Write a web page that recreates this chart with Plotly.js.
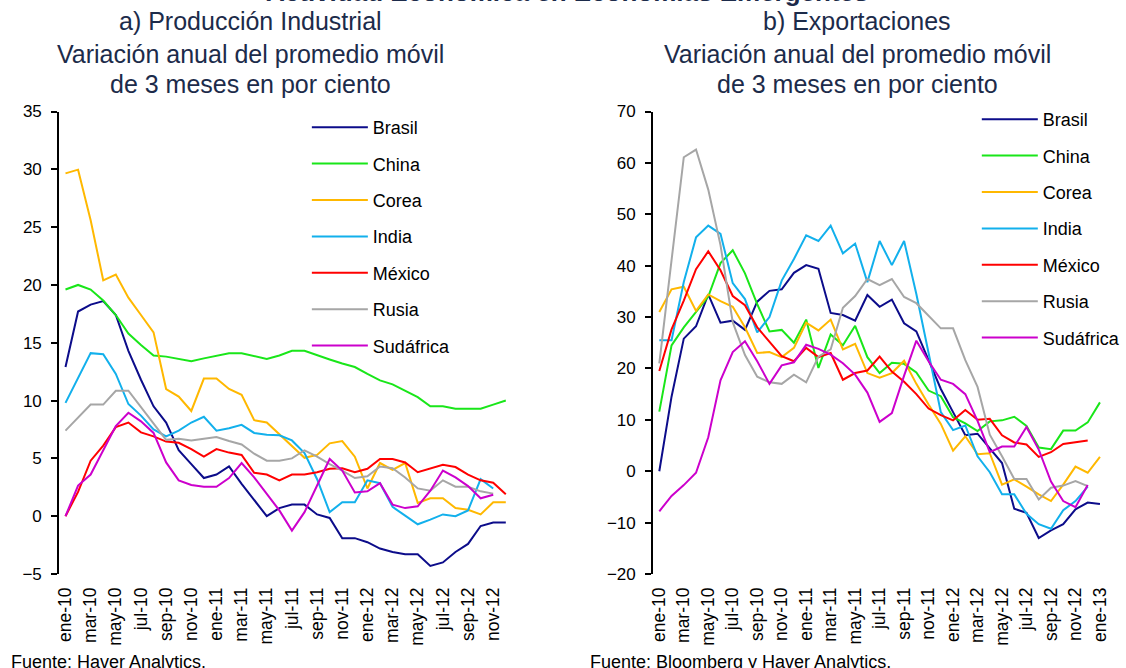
<!DOCTYPE html>
<html>
<head>
<meta charset="utf-8">
<script src="https://cdn.plot.ly/plotly-3.0.1.min.js"></script>
<style>
html,body{margin:0;padding:0;background:#ffffff;}
#chart{width:1126px;height:668px;}
</style>
</head>
<body>
<div id="chart"></div>
<script>
// ---------- DATA ----------
const seriesNames = ['Brasil','China','Corea','India','México','Rusia','Sudáfrica'];

const monthsA = ['ene-10','feb-10','mar-10','abr-10','may-10','jun-10','jul-10','ago-10','sep-10','oct-10','nov-10','dic-10',
                 'ene-11','feb-11','mar-11','abr-11','may-11','jun-11','jul-11','ago-11','sep-11','oct-11','nov-11','dic-11',
                 'ene-12','feb-12','mar-12','abr-12','may-12','jun-12','jul-12','ago-12','sep-12','oct-12','nov-12','dic-12'];
const monthsB = ['ene-10','feb-10','mar-10','abr-10','may-10','jun-10','jul-10','ago-10','sep-10','oct-10','nov-10','dic-10',
                 'ene-11','feb-11','mar-11','abr-11','may-11','jun-11','jul-11','ago-11','sep-11','oct-11','nov-11','dic-11',
                 'ene-12','feb-12','mar-12','abr-12','may-12','jun-12','jul-12','ago-12','sep-12','oct-12','nov-12','dic-12','ene-13'];

const tickLabelsA = ['ene-10','mar-10','may-10','jul-10','sep-10','nov-10','ene-11','mar-11','may-11','jul-11','sep-11','nov-11',
                     'ene-12','mar-12','may-12','jul-12','sep-12','nov-12'];
const tickLabelsB = ['ene-10','mar-10','may-10','jul-10','sep-10','nov-10','ene-11','mar-11','may-11','jul-11','sep-11','nov-11',
                     'ene-12','mar-12','may-12','jul-12','sep-12','nov-12','ene-13'];

// a) Producción Industrial
const brasilA    = [12.9,17.7,18.3,18.6,17.4,14.3,11.8,9.5,8.1,5.7,4.5,3.3,3.6,4.3,2.8,1.35,0.0,0.7,1.0,1.0,0.15,-0.15,-1.9,-1.9,-2.25,-2.8,-3.1,-3.3,-3.3,-4.3,-4.0,-3.1,-2.4,-0.85,-0.55,-0.55];
const chinaA     = [19.6,20.0,19.6,18.65,17.4,15.8,14.8,13.9,13.8,13.6,13.4,13.65,13.85,14.1,14.1,13.85,13.6,13.9,14.3,14.3,13.9,13.55,13.2,12.9,12.3,11.75,11.4,10.85,10.3,9.5,9.5,9.3,9.3,9.3,9.65,10.0];
const coreaA     = [29.65,29.97,25.6,20.4,20.9,18.9,17.4,15.9,11.0,10.35,9.1,11.9,11.9,11.0,10.5,8.3,8.1,7.1,6.1,5.05,5.3,6.3,6.5,5.15,2.4,4.6,4.0,4.6,1.15,1.55,1.55,0.7,0.55,0.15,1.2,1.2];
const indiaA     = [9.8,12.0,14.1,14.0,12.3,9.7,8.7,7.5,6.9,7.4,8.1,8.6,7.4,7.6,7.9,7.2,7.05,7.0,6.55,5.45,3.2,0.35,1.2,1.2,3.1,2.85,0.8,0.05,-0.7,-0.3,0.15,0.0,0.5,3.2,2.4];
const mexicoA    = [0.0,2.1,4.8,6.1,7.7,8.1,7.25,6.9,6.45,6.35,5.8,5.15,5.8,5.5,5.3,3.75,3.6,3.1,3.6,3.6,3.8,4.1,4.15,3.8,4.1,4.95,4.95,4.65,3.8,4.1,4.45,4.25,3.6,3.1,2.9,1.9];
const rusiaA     = [7.4,8.55,9.65,9.65,10.85,10.85,9.4,8.0,6.6,6.7,6.55,6.7,6.85,6.5,6.2,5.4,4.8,4.8,5.0,5.7,5.15,4.5,3.95,3.3,3.45,4.3,4.15,3.35,2.4,2.2,3.1,2.55,2.55,2.15,1.95];
const sudafricaA = [0.0,2.65,3.6,5.7,7.8,8.95,8.2,7.2,4.65,3.1,2.7,2.55,2.55,3.3,4.6,3.35,1.95,0.5,-1.25,0.35,2.65,4.95,3.95,2.05,2.15,2.85,1.0,0.7,0.85,2.2,3.95,3.35,2.6,1.55,1.85];

// b) Exportaciones
const brasilB    = [0.0,14.5,25.8,28.2,34.4,28.9,29.3,27.5,33.0,35.1,35.4,38.6,40.1,39.4,30.8,30.4,29.3,34.3,32.0,33.4,28.8,27.2,21.6,16.0,11.5,7.0,7.3,4.4,1.6,-7.3,-8.1,-13.0,-11.5,-10.3,-7.4,-6.1,-6.4];
const chinaB     = [11.6,24.5,28.0,31.0,34.0,40.5,43.0,38.5,32.5,27.2,27.5,25.0,29.5,20.1,26.6,24.5,28.3,22.2,19.1,21.1,20.9,19.2,15.7,14.6,10.5,9.3,7.8,9.7,9.9,10.6,8.8,4.6,4.3,7.9,7.9,9.5,13.4];
const coreaB     = [31.0,35.4,35.9,31.2,34.4,33.1,32.0,28.0,23.0,23.2,22.2,24.0,28.9,27.4,29.5,23.7,24.8,19.1,18.2,19.1,21.5,17.0,13.0,9.2,4.0,6.8,3.3,3.5,-2.6,-1.6,-3.0,-4.5,-5.8,-2.6,0.9,-0.3,2.8];
const indiaB     = [25.5,25.5,36.8,45.5,47.8,46.2,36.6,33.5,27.0,30.0,37.1,41.3,45.9,44.8,47.8,42.4,44.3,36.8,44.8,40.1,44.8,34.5,23.0,11.5,8.0,8.9,2.9,-0.2,-4.5,-4.5,-8.3,-10.3,-11.2,-7.6,-5.8,-3.0];
const mexicoB    = [19.5,27.6,33.2,39.3,42.8,39.1,34.1,32.3,28.0,25.3,22.4,21.4,24.0,22.2,23.0,17.8,19.1,19.6,22.3,19.4,17.4,15.0,12.2,10.9,9.9,11.9,10.0,10.2,7.0,5.6,5.2,2.8,3.7,5.3,5.6,6.0];
const rusiaB     = [21.0,41.5,61.1,62.6,54.8,44.0,29.0,22.6,18.4,17.3,17.0,18.8,17.3,22.3,23.7,31.8,34.1,37.4,36.2,37.4,33.9,32.7,30.3,27.8,27.8,21.6,16.4,7.1,2.9,-1.5,-1.5,-5.5,-3.2,-2.8,-1.9,-2.9];
const sudafricaB = [-7.8,-4.8,-2.7,-0.3,6.6,17.7,23.2,25.3,21.4,17.0,20.6,21.2,24.6,23.8,22.7,21.0,18.8,15.3,9.6,11.3,18.6,25.4,21.4,17.8,17.0,15.0,9.8,3.7,4.8,4.8,8.6,4.2,-2.0,-5.8,-7.0,-2.7];

const valuesA = [brasilA, chinaA, coreaA, indiaA, mexicoA, rusiaA, sudafricaA];
const valuesB = [brasilB, chinaB, coreaB, indiaB, mexicoB, rusiaB, sudafricaB];

// ---------- STYLE ----------
const colors = ['#0c0c8a','#19e619','#ffb800','#12b0ec','#ff0000','#a6a6a6','#cc00cc'];
const W = 1126, H = 668;
const fx = v => v / W;
const fy = v => 1 - v / H;
const FONT = 'Liberation Sans, Arial, sans-serif';
const titleColor = '#1c2b4a';

const yDom = [fy(574), fy(111.5)];
const xDomA = [fx(60), fx(519)];
const xDomB = [fx(662), fx(1121)];
const rangeYA = [-5, 35], rangeYB = [-20, 70];
const zeroA = yDom[0] + (0 - rangeYA[0]) / (rangeYA[1] - rangeYA[0]) * (yDom[1] - yDom[0]);
const zeroB = yDom[0] + (0 - rangeYB[0]) / (rangeYB[1] - rangeYB[0]) * (yDom[1] - yDom[0]);

const idx = arr => arr.map((_, i) => i);
const boundaries = n => { const b = []; for (let v = 1.5; v <= n - 0.5; v += 2) b.push(v); return b; };

const traces = [];
seriesNames.forEach((name, k) => {
  traces.push({
    type: 'scatter', mode: 'lines', name: name,
    x: idx(valuesA[k]), y: valuesA[k], xaxis: 'x', yaxis: 'y',
    line: {color: colors[k], width: 2}, legend: 'legend', legendgroup: 'a' + k,
    hoverinfo: 'skip'
  });
});
seriesNames.forEach((name, k) => {
  traces.push({
    type: 'scatter', mode: 'lines', name: name,
    x: idx(valuesB[k]), y: valuesB[k], xaxis: 'x2', yaxis: 'y2',
    line: {color: colors[k], width: 2}, legend: 'legend2', legendgroup: 'b' + k,
    hoverinfo: 'skip'
  });
});

const labelAxis = (dom, anchor, n, labels, months) => ({
  domain: dom, anchor: anchor, range: [-0.5, n - 0.5],
  tickmode: 'array', tickvals: labels.map(l => months.indexOf(l)), ticktext: labels,
  tickangle: -90, ticks: '', showline: false, showgrid: false, zeroline: false,
  tickfont: {family: FONT, size: 17.5, color: '#000'}, ticklabelstandoff: 9
});
const zeroAxis = (over, pos, n) => ({
  overlaying: over, anchor: 'free', position: pos, range: [-0.5, n - 0.5],
  tickmode: 'array', tickvals: boundaries(n), showticklabels: false,
  ticks: 'outside', ticklen: 5, tickwidth: 2, tickcolor: '#000',
  showline: true, linecolor: '#000', linewidth: 2, showgrid: false, zeroline: false
});
const valueAxis = (dom, anchor, range, dtick) => ({
  domain: dom, anchor: anchor, range: range, tickmode: 'linear', tick0: 0, dtick: dtick,
  showline: true, linecolor: '#000', linewidth: 2, ticks: 'outside', ticklen: 6, tickwidth: 2, tickcolor: '#000',
  showgrid: false, zeroline: false, tickfont: {family: FONT, size: 17, color: '#000'}, ticklabelstandoff: 6
});

const titleAnn = (x, yMid, text, size, bold) => ({
  xref: 'paper', yref: 'paper', x: x, y: yMid, xanchor: 'center', yanchor: 'middle',
  text: bold ? '<b>' + text + '</b>' : text, showarrow: false,
  font: {family: FONT, size: size, color: titleColor}
});

const legendCommon = {
  font: {family: FONT, size: 18, color: '#000'}, bgcolor: 'rgba(0,0,0,0)',
  itemwidth: 56, tracegroupgap: 10, xanchor: 'left', yanchor: 'top', traceorder: 'grouped',
  itemclick: false, itemdoubleclick: false
};

const layout = {
  width: W, height: H, margin: {l: 0, r: 0, t: 0, b: 0},
  paper_bgcolor: '#ffffff', plot_bgcolor: 'rgba(0,0,0,0)',
  font: {family: FONT, color: '#000'}, showlegend: true, hovermode: false,
  xaxis: labelAxis(xDomA, 'y', monthsA.length, tickLabelsA, monthsA),
  yaxis: valueAxis(yDom, 'x', rangeYA, 5),
  xaxis2: labelAxis(xDomB, 'y2', monthsB.length, tickLabelsB, monthsB),
  yaxis2: valueAxis(yDom, 'x2', rangeYB, 10),
  xaxis3: zeroAxis('x', zeroA, monthsA.length),
  xaxis4: zeroAxis('x2', zeroB, monthsB.length),
  legend: Object.assign({x: fx(311), y: fy(109)}, legendCommon),
  legend2: Object.assign({x: fx(990), y: fy(101)}, legendCommon),
  annotations: [
    titleAnn(fx(575), fy(-8), 'Actividad Económica en Economías Emergentes', 26, true),
    titleAnn(fx(254), fy(21), 'a) Producción Industrial', 25, false),
    titleAnn(fx(254), fy(53.5), 'Variación anual del promedio móvil', 25, false),
    titleAnn(fx(254), fy(84.5), 'de 3 meses en por ciento', 25, false),
    titleAnn(fx(869), fy(21), 'b) Exportaciones', 25, false),
    titleAnn(fx(869), fy(53.5), 'Variación anual del promedio móvil', 25, false),
    titleAnn(fx(869), fy(84.5), 'de 3 meses en por ciento', 25, false),
    {xref: 'paper', yref: 'paper', x: fx(9), y: fy(662), xanchor: 'left', yanchor: 'middle', showarrow: false,
     text: 'Fuente: Haver Analytics.', font: {family: FONT, size: 18, color: '#000'}},
    {xref: 'paper', yref: 'paper', x: fx(596), y: fy(662), xanchor: 'left', yanchor: 'middle', showarrow: false,
     text: 'Fuente: Bloomberg y Haver Analytics.', font: {family: FONT, size: 18, color: '#000'}}
  ]
};

Plotly.newPlot('chart', traces, layout, {staticPlot: true, displayModeBar: false});
</script>
</body>
</html>
